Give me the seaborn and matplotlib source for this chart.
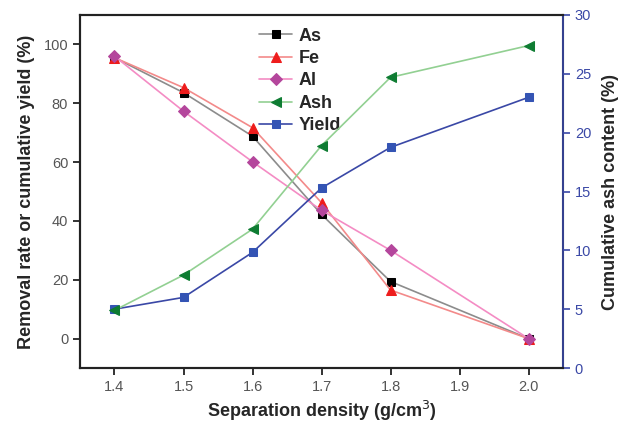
import matplotlib
matplotlib.use("Agg")
import matplotlib.pyplot as plt
import seaborn as sns
import pandas as pd

sns.set_style("ticks")
plt.rcParams['font.family'] = ['Liberation Sans', 'DejaVu Sans']

density = [1.4, 1.5, 1.6, 1.7, 1.8, 2.0]
as_removal = [95.5, 83.6, 68.8, 42.2, 19.4, 0.0]
fe_removal = [95.5, 85.3, 71.7, 46.2, 16.5, 0.0]
al_removal = [96.0, 77.3, 60.1, 43.6, 30.0, 0.0]
ash_content = [4.9, 7.9, 11.8, 18.9, 24.7, 27.4]
yield_cum = [10.0, 14.0, 29.3, 51.2, 65.0, 82.0]

x_ticks = [1.4, 1.5, 1.6, 1.7, 1.8, 1.9, 2.0]
left_ticks = [0, 20, 40, 60, 80, 100]
right_ticks = [0, 5, 10, 15, 20, 25, 30]

df = pd.DataFrame({"x": density, "As": as_removal, "Fe": fe_removal,
                   "Al": al_removal, "Ash": ash_content, "Yield": yield_cum})

fig = plt.figure(figsize=(6.26, 4.26), dpi=100)
ax = fig.add_axes([80/626, 1-368/426, (563-80)/626, (368-15)/426])
ax2 = ax.twinx()

styles = {
    "As": dict(color="#8c8c8c", marker="s", markerfacecolor="black", markeredgecolor="black", markersize=6),
    "Fe": dict(color="#f38a8a", marker="^", markerfacecolor="#ee1c1c", markeredgecolor="#ee1c1c", markersize=7.5),
    "Al": dict(color="#f48cc4", marker="D", markerfacecolor="#b4469c", markeredgecolor="#b4469c", markersize=6),
    "Ash": dict(color="#92d092", marker="<", markerfacecolor="#0e7c32", markeredgecolor="#0e7c32", markersize=7.5),
    "Yield": dict(color="#3a48a6", marker="s", markerfacecolor="#3454b4", markeredgecolor="#3454b4", markersize=5.5),
}

handles = []
for name in ["As", "Fe", "Al", "Ash", "Yield"]:
    target = ax2 if name == "Ash" else ax
    sns.lineplot(data=df, x="x", y=name, ax=target, linewidth=1.2, label=name,
                 legend=False, **styles[name])
    handles.append(target.lines[-1])

ax.set_xlim(1.35, 2.05)
ax.set_ylim(-10, 110)
ax2.set_ylim(0, 30)
ax.set_xticks(x_ticks)
ax.set_xticklabels([f"{v:.1f}" for v in x_ticks])
ax.set_yticks(left_ticks)
ax2.set_yticks(right_ticks)

for a in (ax, ax2):
    for s in a.spines.values():
        s.set_linewidth(1.5)
        s.set_color("#222222")
ax2.spines["right"].set_color("#3a48a6")
ax2.spines["right"].set_linewidth(1.2)

ax.tick_params(axis="both", direction="out", length=5, width=1.3, labelsize=10.5,
               labelcolor="#555555", color="#222222", top=False, right=False)
ax2.tick_params(axis="y", direction="out", length=5, width=1.2, labelsize=10.5,
                labelcolor="#3a48a6", color="#3a48a6")

ax.set_xlabel("Separation density (g/cm$^3$)", fontsize=13, fontweight="bold", labelpad=4)
ax.set_ylabel("Removal rate or cumulative yield (%)", fontsize=13, fontweight="bold", labelpad=6)
ax2.set_ylabel("Cumulative ash content (%)", fontsize=13, fontweight="bold", labelpad=8)

leg = ax.legend(handles=handles, labels=["As", "Fe", "Al", "Ash", "Yield"],
                loc="upper left", bbox_to_anchor=(0.345, 1.0), frameon=False,
                prop={"weight": "bold", "size": 13}, handlelength=1.8,
                handletextpad=0.4, labelspacing=0.3, borderaxespad=0.3)

fig.savefig("out.png", dpi=100)
